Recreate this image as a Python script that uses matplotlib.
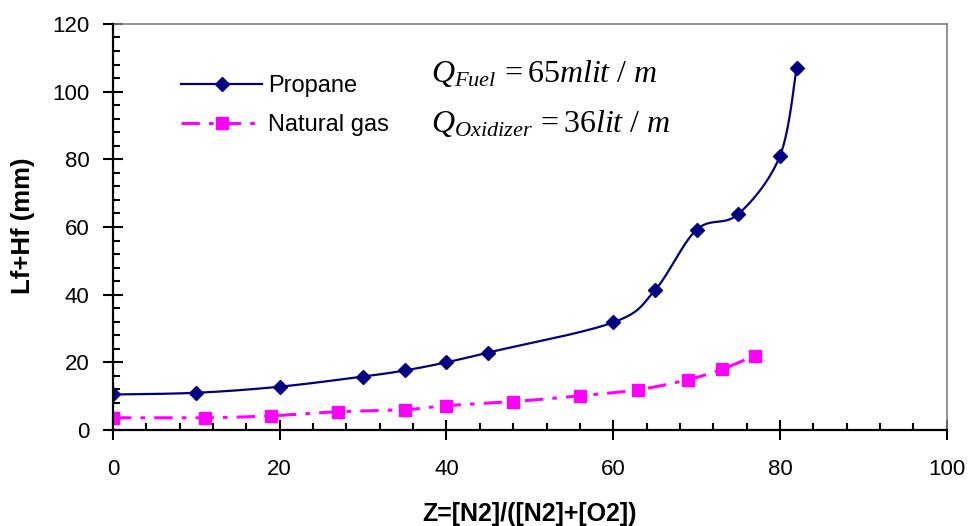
import matplotlib
matplotlib.use("Agg")
import matplotlib.pyplot as plt
import numpy as np
from matplotlib.ticker import MultipleLocator

# Data
propane_x = [0, 10, 20, 30, 35, 40, 45, 60, 65, 70, 75, 80, 82]
propane_y = [10.5, 11.0, 12.8, 15.8, 17.6, 20.0, 22.9, 31.8, 41.3, 59.2, 63.8, 81.0, 107.0]

gas_x = [0, 11, 19, 27, 35, 40, 48, 56, 63, 69, 73, 77]
gas_y = [3.6, 3.6, 4.2, 5.4, 6.0, 7.2, 8.4, 10.1, 11.9, 14.9, 17.9, 22.0]

x_ticks = [0, 20, 40, 60, 80, 100]
y_ticks = [0, 20, 40, 60, 80, 100, 120]

plt.rcParams["font.family"] = ["Liberation Sans", "DejaVu Sans"]
plt.rcParams["mathtext.fontset"] = "custom"
plt.rcParams["mathtext.rm"] = "Liberation Serif"
plt.rcParams["mathtext.it"] = "Liberation Serif:italic"


def smooth(xs, ys, n=30):
    # Excel-style smoothed line (Catmull-Rom as cubic Bezier)
    p = np.column_stack([xs, ys]).astype(float)
    out = [p[0]]
    for i in range(len(p) - 1):
        p0 = p[i - 1] if i > 0 else p[i]
        p3 = p[i + 2] if i + 2 < len(p) else p[i + 1]
        c1 = p[i] + (p[i + 1] - p0) / 6
        c2 = p[i + 1] - (p3 - p[i]) / 6
        t = np.linspace(0, 1, n)[1:, None]
        seg = ((1 - t) ** 3 * p[i] + 3 * (1 - t) ** 2 * t * c1
               + 3 * (1 - t) * t ** 2 * c2 + t ** 3 * p[i + 1])
        out.extend(seg)
    out = np.array(out)
    return out[:, 0], out[:, 1]


fig = plt.figure(figsize=(9.7, 5.26), dpi=100)
ax = fig.add_axes([0.1165, 0.1825, 0.8595, 0.772])

navy = "#000080"
pink = "#FF00FF"
gas_dash = (6, 3, 1.5, 3)

sx, sy = smooth(propane_x, propane_y)
ax.plot(sx, sy, color=navy, lw=1.6)
ax.plot(propane_x, propane_y, ls="none", marker="D", ms=7, color=navy)

gx, gy = smooth(gas_x, gas_y)
ax.plot(gx, gy, color=pink, lw=2.2, dashes=gas_dash)
ax.plot(gas_x, gas_y, ls="none", marker="s", ms=8, color=pink)

# legend handles combine line + marker
h1, = ax.plot([], [], color=navy, lw=1.6, marker="D", ms=7)
h2, = ax.plot([], [], color=pink, lw=2.2, dashes=gas_dash, marker="s", ms=8)
ax.legend([h1, h2], ["Propane", "Natural gas"], loc="center left",
          bbox_to_anchor=(0.0816, 0.798), frameon=False, fontsize=17,
          borderpad=0, borderaxespad=0, handlelength=3.45,
          handletextpad=0.25, labelspacing=0.72)

ax.text(0.381, 0.878, r"$Q_{Fuel}\,= 65mlit\ /\ m$", transform=ax.transAxes,
        fontsize=23, va="center", ha="left")
ax.text(0.381, 0.754, r"$Q_{Oxidizer}\,= 36lit\ /\ m$", transform=ax.transAxes,
        fontsize=23, va="center", ha="left")

ax.set_xlim(0, 100)
ax.set_ylim(0, 120)
ax.set_xticks(x_ticks)
ax.set_yticks(y_ticks)
ax.xaxis.set_minor_locator(MultipleLocator(4))
ax.yaxis.set_minor_locator(MultipleLocator(4))
ax.tick_params(which="major", direction="inout", length=14, width=1.5,
               labelsize=16, pad=10)
ax.tick_params(which="minor", direction="in", length=5, width=1.5)
ax.tick_params(axis="x", which="major", pad=14)

for s in ["left", "bottom"]:
    ax.spines[s].set_linewidth(1.6)
    ax.spines[s].set_color("black")
for s in ["top", "right"]:
    ax.spines[s].set_linewidth(1.2)
    ax.spines[s].set_color("#808080")
ax.spines["left"].set_zorder(3)
ax.spines["bottom"].set_zorder(3)

fig.text(530 / 970, 1 - 502 / 526, "Z=[N2]/([N2]+[O2])", fontsize=18,
         fontweight="bold", ha="center", va="top")
fig.text(23 / 970, 1 - 226 / 526, "Lf+Hf (mm)", fontsize=18.5,
         fontweight="bold", ha="center", va="center", rotation=90)

fig.savefig("out.png", dpi=100)
